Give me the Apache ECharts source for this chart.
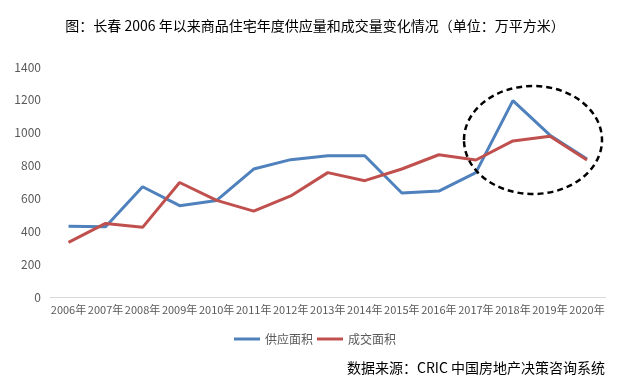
<!DOCTYPE html>
<html><head><meta charset="utf-8">
<script src="https://cdn.jsdelivr.net/npm/echarts@6/dist/echarts.min.js"></script>
<style>html,body{margin:0;padding:0;background:#fff}#c{width:630px;height:388px}</style>
</head><body><div id="c"></div>
<script>
const categories = ['2006年','2007年','2008年','2009年','2010年','2011年','2012年','2013年','2014年','2015年','2016年','2017年','2018年','2019年','2020年'];
const supply = [430, 428, 671, 556, 588, 779, 836, 860, 860, 633, 645, 757, 1195, 985, 840];
const deal = [333, 448, 424, 697, 588, 523, 615, 757, 708, 779, 866, 834, 950, 978, 834];
const yTicks = [0, 200, 400, 600, 800, 1000, 1200, 1400];

const chart = echarts.init(document.getElementById('c'));
const font = '"Noto Sans CJK SC", sans-serif';
chart.setOption({
  animation: false,
  title: {
    text: '图：长春 2006 年以来商品住宅年度供应量和成交量变化情况（单位：万平方米）',
    left: 'center', top: 14,
    textStyle: { fontFamily: font, fontSize: 14, fontWeight: 'normal', color: '#000' }
  },
  grid: { left: 50, right: 24.5, top: 67, bottom: 91, containLabel: false },
  legend: {
    data: ['供应面积', '成交面积'],
    bottom: 38, left: 'center',
    itemWidth: 26, itemHeight: 3, itemGap: 4,
    icon: 'rect',
    textStyle: { fontFamily: font, fontSize: 12, color: '#595959' }
  },
  xAxis: {
    type: 'category', data: categories, boundaryGap: true,
    axisLine: { lineStyle: { color: '#d9d9d9', width: 1 } },
    axisTick: { show: false },
    axisLabel: { interval: 0, fontFamily: font, fontSize: 11, color: '#595959', margin: 7 }
  },
  yAxis: {
    type: 'value', min: yTicks[0], max: yTicks[yTicks.length - 1], interval: 200,
    axisLine: { show: false }, axisTick: { show: false },
    splitLine: { show: false },
    axisLabel: { fontFamily: font, fontSize: 12, color: '#595959', margin: 9,
      formatter: function (v) { return String(v); } }
  },
  series: [
    { name: '供应面积', type: 'line', data: supply, symbol: 'none',
      lineStyle: { color: '#4F81BD', width: 3 }, itemStyle: { color: '#4F81BD' } },
    { name: '成交面积', type: 'line', data: deal, symbol: 'none',
      lineStyle: { color: '#C0504D', width: 3 }, itemStyle: { color: '#C0504D' } }
  ],
  graphic: [
    { type: 'ellipse', shape: { cx: 533, cy: 140, rx: 69, ry: 54 },
      style: { fill: 'none', stroke: '#000', lineWidth: 2.5, lineDash: [6, 4] }, z: 10 },
    { type: 'text', right: 25, top: 361,
      style: { text: '数据来源：CRIC 中国房地产决策咨询系统', font: '14px "Noto Sans CJK SC", sans-serif', fill: '#000' } }
  ]
});
</script></body></html>
